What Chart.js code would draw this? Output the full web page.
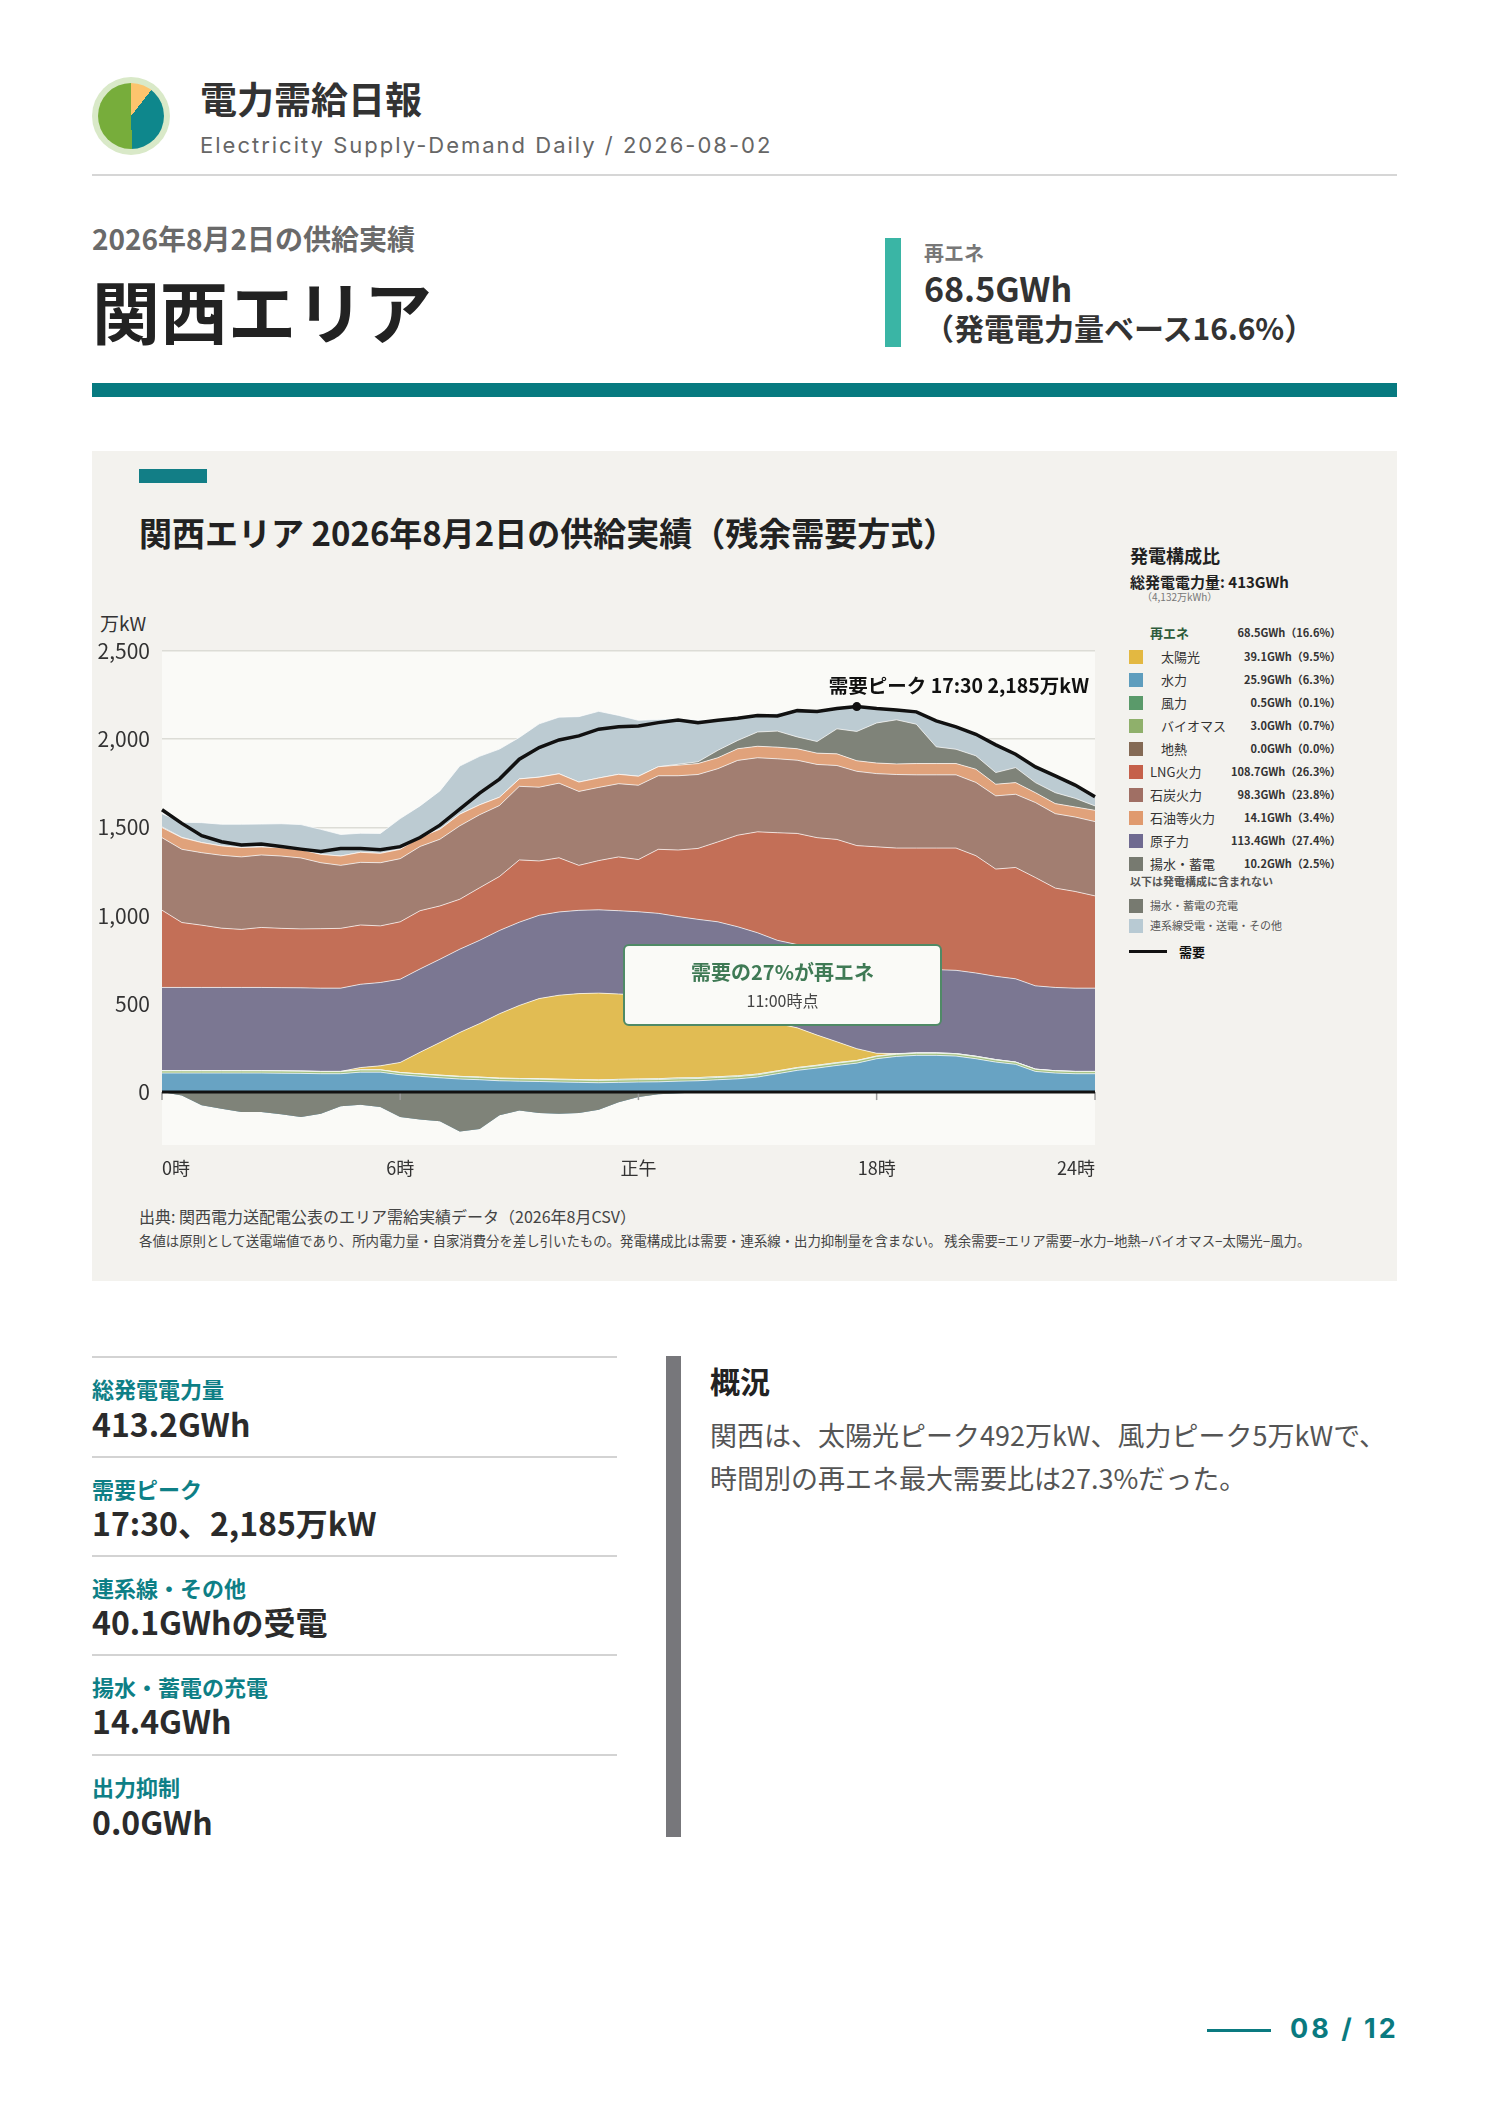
<!DOCTYPE html>
<html lang="ja">
<head>
<meta charset="utf-8">
<title>電力需給日報 関西エリア 2026-08-02</title>
<script src="https://cdn.jsdelivr.net/npm/chart.js@4.4.1/dist/chart.umd.min.js"></script>
<style>
    html, body { margin: 0; padding: 0; background: #fff; }
    body {
        width: 1488px; height: 2105px; position: relative; overflow: hidden;
        font-family: "Noto Sans CJK JP", "Noto Sans", sans-serif; color: #222;
    }
    .abs { position: absolute; line-height: 1; white-space: nowrap; }
    .b { font-weight: bold; }
    .logo { position: absolute; left: 92px; top: 77px; width: 78px; height: 78px; border-radius: 50%; background: #d9e9c8; }
    .logo div { position: absolute; left: 6px; top: 6px; width: 66px; height: 66px; border-radius: 50%;
        background: conic-gradient(#fcc46d 0deg 38deg, #0e878c 38deg 178deg, #77ad3b 178deg 360deg); }
    .panel { position: absolute; left: 92px; top: 451px; width: 1305px; height: 830px; background: #f3f2ee; }
    .leyenda .fila { position: absolute; left: 1129px; width: 212px; height: 16px; }
    .leyenda .sw { position: absolute; left: 0; top: 1px; width: 14px; height: 14px; }
    .leyenda .lb { position: absolute; top: 1px; font-size: 13px; line-height: 1; color: #333; white-space: nowrap; }
    .leyenda .vl { position: absolute; right: 0; top: 2px; font-size: 11px; line-height: 1; font-weight: bold; color: #333; white-space: nowrap; }
    .linea { position: absolute; left: 92px; width: 525px; height: 2px; background: #d3d3d3; }
    .dato-lb { position: absolute; left: 92px; font-size: 22px; line-height: 1; font-weight: bold; color: #0e7f86; }
    .dato-vl { position: absolute; left: 92px; font-size: 32px; line-height: 1; font-weight: bold; color: #2b2b2b; }
</style>
</head>
<body>

<!-- cabecera -->
<div class="logo"><div></div></div>
<div class="abs b" style="left:200px;top:80px;font-size:37px;color:#333;">電力需給日報</div>
<div class="abs" style="left:200px;top:134px;font-size:22px;color:#666;letter-spacing:2px;font-family:Inter,'Noto Sans',sans-serif;">Electricity Supply-Demand Daily / 2026-08-02</div>
<div class="abs" style="left:92px;top:174px;width:1305px;height:2px;background:#d6d6d6;"></div>

<div class="abs b" style="left:92px;top:224px;font-size:28px;color:#6a6a6a;">2026年8月2日の供給実績</div>
<div class="abs b" style="left:92px;top:276px;font-size:68px;color:#222;">関西エリア</div>

<div class="abs" style="left:885px;top:238px;width:16px;height:109px;background:#3ab5a5;"></div>
<div class="abs b" style="left:924px;top:243px;font-size:20px;color:#777;">再エネ</div>
<div class="abs b" style="left:924px;top:271px;font-size:34px;color:#333;">68.5GWh</div>
<div class="abs b" style="left:924px;top:312px;font-size:30px;color:#333;">（発電電力量ベース16.6%）</div>

<div class="abs" style="left:92px;top:383px;width:1305px;height:14px;background:#077a80;"></div>

<!-- panel de la grafica -->
<div class="panel"></div>
<div class="abs" style="left:139px;top:469px;width:68px;height:14px;background:#127e86;"></div>
<div class="abs b" style="left:139px;top:516px;font-size:33px;color:#222;">関西エリア 2026年8月2日の供給実績（残余需要方式）</div>
<div class="abs" style="left:100px;top:613px;font-size:19px;color:#333;">万kW</div>

<canvas id="grafica-area" width="1015" height="590" style="position:absolute;left:92px;top:600px;"></canvas>

<div class="abs" style="left:623px;top:944px;width:315px;height:78px;background:#fafaf7;border:2px solid #4f8a66;border-radius:6px;">
    <div class="abs b" style="left:0;top:16px;width:315px;text-align:center;font-size:20px;color:#3f7a55;">需要の27%が再エネ</div>
    <div class="abs" style="left:0;top:46px;width:315px;text-align:center;font-size:16px;color:#444;">11:00時点</div>
</div>

<!-- leyenda -->
<div class="leyenda">
    <div class="abs b" style="left:1130px;top:546px;font-size:18px;color:#222;">発電構成比</div>
    <div class="abs b" style="left:1130px;top:574px;font-size:15px;color:#222;">総発電電力量: 413GWh</div>
    <div class="abs" style="left:1142px;top:592px;font-size:10px;color:#777;">（4,132万kWh）</div>

    <div class="fila" style="top:625px;"><span class="lb b" style="left:21px;color:#2d5b3b;">再エネ</span><span class="vl">68.5GWh（16.6%）</span></div>
    <div class="fila" style="top:649px;"><span class="sw" style="background:#e3b841"></span><span class="lb" style="left:32px;">太陽光</span><span class="vl">39.1GWh（9.5%）</span></div>
    <div class="fila" style="top:672px;"><span class="sw" style="background:#5e9dbd"></span><span class="lb" style="left:32px;">水力</span><span class="vl">25.9GWh（6.3%）</span></div>
    <div class="fila" style="top:695px;"><span class="sw" style="background:#5a9a6a"></span><span class="lb" style="left:32px;">風力</span><span class="vl">0.5GWh（0.1%）</span></div>
    <div class="fila" style="top:718px;"><span class="sw" style="background:#8fb06b"></span><span class="lb" style="left:32px;">バイオマス</span><span class="vl">3.0GWh（0.7%）</span></div>
    <div class="fila" style="top:741px;"><span class="sw" style="background:#846a55"></span><span class="lb" style="left:32px;">地熱</span><span class="vl">0.0GWh（0.0%）</span></div>
    <div class="fila" style="top:764px;"><span class="sw" style="background:#c5604a"></span><span class="lb" style="left:21px;">LNG火力</span><span class="vl">108.7GWh（26.3%）</span></div>
    <div class="fila" style="top:787px;"><span class="sw" style="background:#a06f64"></span><span class="lb" style="left:21px;">石炭火力</span><span class="vl">98.3GWh（23.8%）</span></div>
    <div class="fila" style="top:810px;"><span class="sw" style="background:#e09a6e"></span><span class="lb" style="left:21px;">石油等火力</span><span class="vl">14.1GWh（3.4%）</span></div>
    <div class="fila" style="top:833px;"><span class="sw" style="background:#6f6a90"></span><span class="lb" style="left:21px;">原子力</span><span class="vl">113.4GWh（27.4%）</span></div>
    <div class="fila" style="top:856px;"><span class="sw" style="background:#777a70"></span><span class="lb" style="left:21px;">揚水・蓄電</span><span class="vl">10.2GWh（2.5%）</span></div>
    <div class="abs b" style="left:1130px;top:876px;font-size:11px;color:#555;">以下は発電構成に含まれない</div>
    <div class="fila" style="top:898px;"><span class="sw" style="background:#777a70"></span><span class="lb" style="left:21px;font-size:11px;color:#555;top:2px;">揚水・蓄電の充電</span></div>
    <div class="fila" style="top:918px;"><span class="sw" style="background:#b8cad3"></span><span class="lb" style="left:21px;font-size:11px;color:#555;top:2px;">連系線受電・送電・その他</span></div>
    <div class="abs" style="left:1129px;top:950px;width:38px;height:3px;background:#111;"></div>
    <div class="abs b" style="left:1179px;top:945px;font-size:13px;color:#111;">需要</div>
</div>

<div class="abs" style="left:139px;top:1208px;font-size:16px;color:#444;">出典: 関西電力送配電公表のエリア需給実績データ（2026年8月CSV）</div>
<div class="abs" style="left:139px;top:1234px;font-size:13.4px;color:#444;">各値は原則として送電端値であり、所内電力量・自家消費分を差し引いたもの。発電構成比は需要・連系線・出力抑制量を含まない。 残余需要=エリア需要−水力−地熱−バイオマス−太陽光−風力。</div>

<!-- datos inferiores -->
<div class="linea" style="top:1356px;"></div>
<div class="dato-lb" style="top:1377px;">総発電電力量</div>
<div class="dato-vl" style="top:1407px;">413.2GWh</div>
<div class="linea" style="top:1456px;"></div>
<div class="dato-lb" style="top:1477px;">需要ピーク</div>
<div class="dato-vl" style="top:1506px;">17:30、2,185万kW</div>
<div class="linea" style="top:1555px;"></div>
<div class="dato-lb" style="top:1576px;">連系線・その他</div>
<div class="dato-vl" style="top:1605px;">40.1GWhの受電</div>
<div class="linea" style="top:1654px;"></div>
<div class="dato-lb" style="top:1675px;">揚水・蓄電の充電</div>
<div class="dato-vl" style="top:1704px;">14.4GWh</div>
<div class="linea" style="top:1754px;"></div>
<div class="dato-lb" style="top:1775px;">出力抑制</div>
<div class="dato-vl" style="top:1805px;">0.0GWh</div>

<div class="abs" style="left:666px;top:1356px;width:15px;height:481px;background:#77777b;"></div>
<div class="abs b" style="left:710px;top:1365px;font-size:30px;color:#222;">概況</div>
<div class="abs" style="left:710px;top:1421px;font-size:27px;color:#555;">関西は、太陽光ピーク492万kW、風力ピーク5万kWで、</div>
<div class="abs" style="left:710px;top:1464px;font-size:27px;color:#555;">時間別の再エネ最大需要比は27.3%だった。</div>

<!-- pie de pagina -->
<div class="abs" style="left:1207px;top:2029px;width:64px;height:3px;background:#0a7a80;"></div>
<div class="abs b" style="left:1290px;top:2015px;font-size:27px;color:#0a7a80;letter-spacing:3px;font-family:Inter,'Noto Sans',sans-serif;">08 / 12</div>

<script>
// Horas cada 30 minutos (0:00 - 23:30)
const horas = [];
for (let h = 0; h < 24; h++) { horas.push(h + ':00', h + ':30'); }

// Datos en 万kW
const hidro = [108, 108, 108, 108, 108, 108, 107, 106, 104, 104, 113, 113, 98, 89, 81, 74, 70,
    64, 62, 60, 57, 55, 53, 55, 57, 58, 62, 64, 70, 75, 85, 104,
    123, 136, 151, 164, 189, 202, 208, 208, 204, 189, 170, 157, 117, 108, 104, 104];
const biomasa = [12, 12, 12, 12, 12, 12, 12, 12, 12, 12, 12, 12, 12, 13, 13, 13, 13,
    13, 13, 13, 13, 13, 13, 13, 13, 13, 13, 13, 13, 13, 13, 13,
    13, 13, 13, 13, 13, 12, 12, 12, 12, 12, 12, 12, 12, 12, 12, 12];
const eolica = [1, 1, 1, 1, 1, 1, 1, 1, 1, 1, 1, 1, 1, 1, 2, 2, 2,
    2, 2, 3, 3, 3, 3, 4, 4, 5, 5, 5, 4, 4, 4, 3,
    3, 3, 3, 2, 2, 2, 2, 2, 2, 2, 2, 1, 1, 1, 1, 1];
const geotermica = [0, 0, 0, 0, 0, 0, 0, 0, 0, 0, 0, 0, 0, 0, 0, 0, 0,
    0, 0, 0, 0, 0, 0, 0, 0, 0, 0, 0, 0, 0, 0, 0,
    0, 0, 0, 0, 0, 0, 0, 0, 0, 0, 0, 0, 0, 0, 0, 0];
const solar = [0, 0, 0, 0, 0, 0, 0, 0, 0, 0, 13, 23, 57, 123, 185, 249, 303,
    365, 414, 454, 476, 487, 492, 484, 476, 465, 443, 425, 406, 373, 329, 268,
    225, 171, 118, 67, 16, 2, 0, 0, 0, 0, 0, 0, 0, 0, 0, 0];
const nuclear = [472, 472, 472, 472, 472, 472, 472, 472, 472, 472, 472, 472, 472, 472, 472, 472, 472,
    472, 472, 472, 472, 472, 472, 472, 472, 472, 472, 472, 472, 472, 472, 472,
    472, 472, 472, 472, 472, 472, 472, 472, 472, 472, 472, 472, 472, 472, 472, 472];
const lng = [438, 368, 353, 336, 329, 340, 336, 334, 337, 339, 336, 321, 325, 330, 302, 283, 298,
    306, 353, 308, 307, 255, 279, 305, 296, 363, 377, 402, 453, 519, 572, 610,
    630, 647, 675, 679, 698, 693, 689, 689, 693, 665, 608, 631, 614, 563, 548, 523];
const carbon = [411, 415, 411, 413, 411, 411, 410, 402, 374, 357, 355, 358, 358, 364, 378, 416, 414,
    402, 417, 418, 423, 419, 415, 415, 421, 417, 421, 419, 415, 424, 420, 419,
    415, 415, 419, 421, 415, 417, 415, 415, 415, 415, 415, 415, 425, 422, 422, 421];
const petroleo = [57, 66, 57, 53, 53, 45, 47, 47, 47, 53, 57, 53, 53, 51, 57, 66, 56,
    47, 42, 57, 53, 53, 53, 53, 51, 51, 60, 62, 62, 66, 65, 66,
    65, 64, 66, 60, 60, 60, 64, 64, 64, 75, 66, 66, 56, 57, 57, 64];
const bombeo = [4, 2, 0, 0, 0, 0, 0, 0, 0, 0, 0, 0, 0, 0, 0, 0, 0,
    0, 0, 0, 0, 0, 0, 0, 0, 0, 5, 10, 42, 47, 81, 91,
    67, 66, 142, 166, 227, 250, 223, 95, 81, 76, 66, 85, 57, 62, 49, 25];
const interconexion = [75, 85, 113, 123, 132, 130, 136, 142, 142, 122, 108, 113, 174, 179, 217, 273, 275,
    273, 235, 302, 321, 371, 378, 334, 317, 268, 259, 236, 174, 129, 94, 101,
    155, 172, 117, 142, 85, 58, 70, 147, 127, 122, 157, 75, 88, 94, 74, 51];
const carga = [0, -19, -75, -94, -113, -113, -126, -142, -123, -81, -72, -85, -142, -155, -166, -223, -210,
    -132, -104, -119, -123, -119, -100, -57, -28, -13, -6, -2, 0, 0, 0, 0,
    0, 0, 0, 0, 0, 0, 0, 0, 0, 0, 0, 0, 0, 0, 0, 0];
const demanda = [1600, 1523, 1453, 1419, 1400, 1406, 1392, 1377, 1364, 1381, 1381, 1374, 1391, 1443, 1513, 1604, 1695,
    1774, 1887, 1953, 1996, 2019, 2057, 2070, 2075, 2094, 2109, 2094, 2108, 2119, 2134, 2132,
    2162, 2157, 2174, 2185, 2174, 2166, 2155, 2104, 2070, 2028, 1968, 1915, 1843, 1792, 1740, 1674];

// Ejes
const yTicks = [0, 500, 1000, 1500, 2000, 2500];
const xTickIndex = [0, 12, 24, 36, 47];
const xTickText = ['0時', '6時', '正午', '18時', '24時'];

Chart.defaults.font.family = '"Noto Sans CJK JP", "Noto Sans", sans-serif';
Chart.defaults.color = '#333';

const picoIdx = demanda.indexOf(Math.max(...demanda));
const picoTexto = '需要ピーク ' + horas[picoIdx].padStart(5, '0') + ' ' + demanda[picoIdx].toLocaleString('en-US') + '万kW';

function capa(label, data, color) {
    return {
        label: label,
        data: data,
        backgroundColor: color,
        borderColor: 'rgba(255,255,255,0.7)',
        borderWidth: 1,
        fill: 'stack',
        stack: 'gen',
        pointRadius: 0,
        tension: 0
    };
}

// Fondo del area de trazado
const pluginFondo = {
    id: 'fondo',
    beforeDraw(chart) {
        const { ctx, chartArea: a } = chart;
        ctx.save();
        ctx.fillStyle = '#fafaf7';
        ctx.fillRect(a.left, a.top, a.right - a.left, a.bottom - a.top);
        ctx.restore();
    }
};

// Linea cero, marcas y etiqueta del pico
const pluginPico = {
    id: 'pico',
    afterDatasetsDraw(chart) {
        const { ctx, chartArea: a, scales } = chart;
        const y0 = scales.y.getPixelForValue(0);
        ctx.save();
        ctx.strokeStyle = '#9a9a9a';
        ctx.lineWidth = 1.5;
        xTickIndex.forEach(i => {
            const x = scales.x.getPixelForValue(i);
            ctx.beginPath();
            ctx.moveTo(x, y0);
            ctx.lineTo(x, y0 + 8);
            ctx.stroke();
        });
        ctx.strokeStyle = '#111';
        ctx.lineWidth = 3;
        ctx.beginPath();
        ctx.moveTo(a.left, y0);
        ctx.lineTo(a.right, y0);
        ctx.stroke();

        const meta = chart.getDatasetMeta(0);
        const p = meta.data[picoIdx];
        ctx.fillStyle = '#111';
        ctx.font = 'bold 19.5px "Noto Sans CJK JP"';
        ctx.textAlign = 'left';
        ctx.textBaseline = 'middle';
        ctx.fillText(picoTexto, p.x - 28, p.y - 21);
        ctx.restore();
    }
};

const ctx = document.getElementById('grafica-area').getContext('2d');

new Chart(ctx, {
    type: 'line',
    data: {
        labels: horas,
        datasets: [
            {
                label: '需要',
                data: demanda,
                borderColor: '#111',
                borderWidth: 3.5,
                fill: false,
                stack: 'demanda',
                tension: 0,
                pointRadius: c => c.dataIndex === picoIdx ? 4.5 : 0,
                pointBackgroundColor: '#111',
                pointBorderWidth: 0
            },
            {
                label: '揚水・蓄電の充電',
                data: carga,
                backgroundColor: '#7f8379',
                borderColor: 'rgba(255,255,255,0)',
                borderWidth: 0,
                fill: 'origin',
                stack: 'carga',
                pointRadius: 0,
                tension: 0
            },
            capa('水力', hidro, '#68a3c3'),
            capa('バイオマス', biomasa, '#a3c07f'),
            capa('風力', eolica, '#66a078'),
            capa('地熱', geotermica, '#8a705b'),
            capa('太陽光', solar, '#e1bc53'),
            capa('原子力', nuclear, '#7b7792'),
            capa('LNG火力', lng, '#c36f57'),
            capa('石炭火力', carbon, '#a27e71'),
            capa('石油等火力', petroleo, '#e0a27b'),
            capa('揚水・蓄電', bombeo, '#7f8379'),
            capa('連系線受電・送電・その他', interconexion, '#bccbd2')
        ]
    },
    options: {
        responsive: false,
        animation: false,
        layout: { padding: { top: 51, right: 10, bottom: 5, left: 0 } },
        plugins: {
            legend: { display: false },
            tooltip: { enabled: false }
        },
        scales: {
            x: {
                type: 'category',
                offset: false,
                grid: { display: false, drawTicks: false },
                border: { display: false },
                afterBuildTicks: s => { s.ticks = xTickIndex.map(v => ({ value: v })); },
                afterFit: s => { s.height = 40; },
                ticks: {
                    autoSkip: false,
                    maxRotation: 0,
                    align: 'inner',
                    padding: 12,
                    font: { size: 18 },
                    color: '#333',
                    callback: v => xTickText[xTickIndex.indexOf(v)]
                }
            },
            y: {
                stacked: true,
                min: -300,
                max: 2500,
                grid: { color: '#dcdcd6', lineWidth: 1.5, drawTicks: false },
                border: { display: false },
                afterBuildTicks: s => { s.ticks = yTicks.map(v => ({ value: v })); },
                afterFit: s => { s.width = 70; },
                ticks: {
                    padding: 12,
                    font: { size: 21 },
                    color: '#333',
                    callback: v => v.toLocaleString('en-US')
                }
            }
        }
    },
    plugins: [pluginFondo, pluginPico]
});
</script>
</body>
</html>
